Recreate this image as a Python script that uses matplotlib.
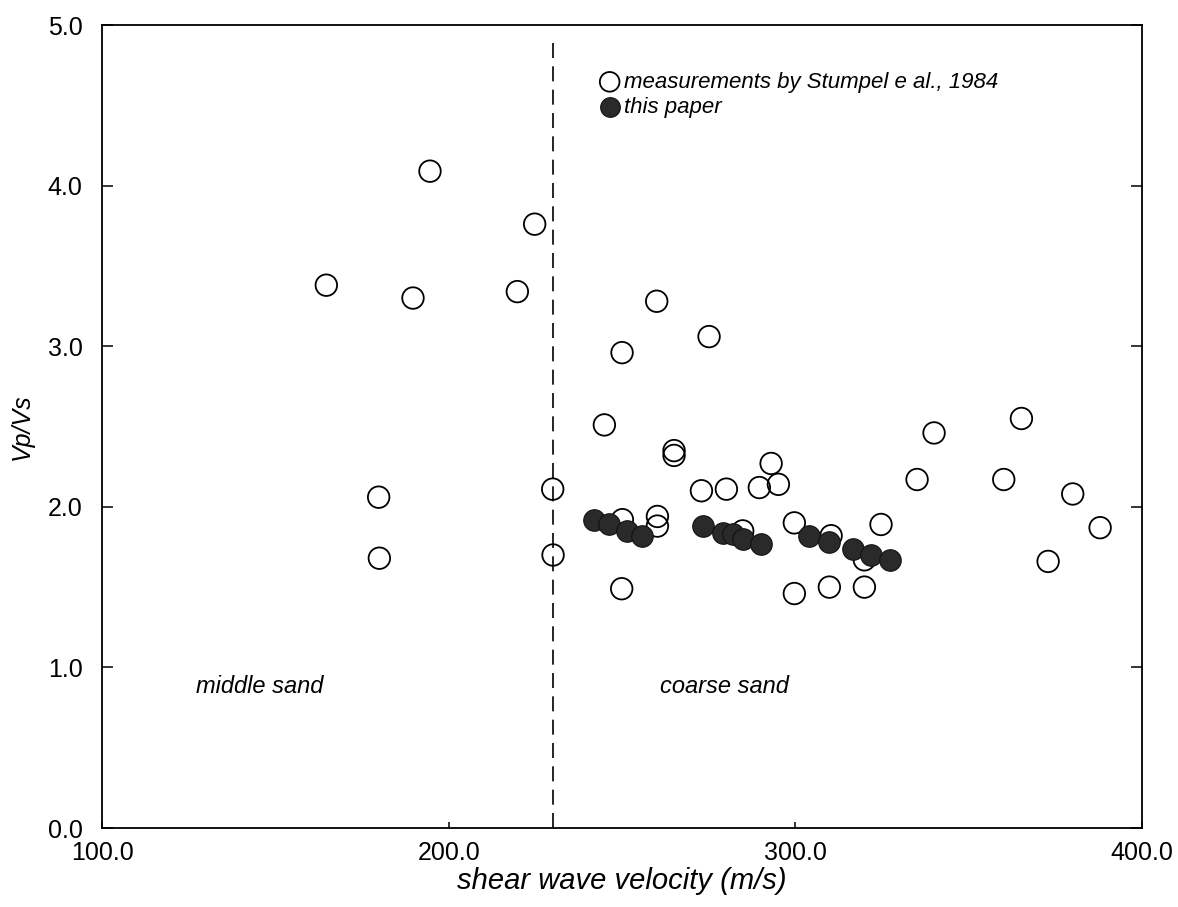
import matplotlib
matplotlib.use('Agg')
import matplotlib.pyplot as plt

plt.rcParams['font.family'] = ['Liberation Sans', 'DejaVu Sans']

# Stumpel et al. (1984) measurements
stumpel_vs = [164.7, 179.8, 180.0, 189.7, 194.6, 219.8, 224.8, 230.0, 230.1,
              244.9, 249.9, 250.0, 250.1, 260.0, 260.2, 260.2, 265.0, 265.0,
              272.9, 275.1, 280.1, 284.8, 289.6, 293.0, 295.1, 299.7, 299.7,
              309.8, 310.3, 319.9, 319.9, 324.7, 335.1, 340.0, 360.1, 365.2,
              372.9, 380.0, 387.9]
stumpel_ratio = [3.38, 2.06, 1.68, 3.30, 4.09, 3.34, 3.76, 2.11, 1.70,
                 2.51, 1.49, 2.96, 1.92, 3.28, 1.94, 1.88, 2.35, 2.32,
                 2.10, 3.06, 2.11, 1.85, 2.12, 2.27, 2.14, 1.90, 1.46,
                 1.50, 1.82, 1.67, 1.50, 1.89, 2.17, 2.46, 2.17, 2.55,
                 1.66, 2.08, 1.87]

# this paper
paper_vs = [241.9, 246.3, 251.4, 255.9, 273.4, 279.0, 281.9, 284.8, 290.1,
            304.0, 309.8, 316.5, 321.8, 327.4]
paper_ratio = [1.92, 1.89, 1.85, 1.82, 1.88, 1.84, 1.83, 1.80, 1.77,
               1.82, 1.78, 1.74, 1.70, 1.67]

boundary_vs = 230.0
xticks = [100, 200, 300, 400]
yticks = [0, 1, 2, 3, 4, 5]

fig = plt.figure(figsize=(11.78, 9.07), dpi=100)
ax = fig.add_axes([0.0866, 0.0871, 0.8829, 0.8853])

ax.scatter(stumpel_vs, stumpel_ratio, s=240, facecolors='none',
           edgecolors='black', linewidths=1.3, zorder=3,
           label='measurements by Stumpel e al., 1984')
ax.scatter(paper_vs, paper_ratio, s=240, color='#2a2a2a',
           edgecolors='#111111', linewidths=0.8, zorder=4,
           label='this paper')

ax.plot([boundary_vs, boundary_vs], [0, 4.92], color='black', lw=1.2,
        dashes=(9, 5), zorder=2)

ax.text(127, 0.88, 'middle sand', fontsize=17, style='italic', va='center')
ax.text(261, 0.88, 'coarse sand', fontsize=17, style='italic', va='center')

ax.set_xlim(100, 400)
ax.set_ylim(0, 5)
ax.set_xticks(xticks)
ax.set_xticklabels(['%.1f' % v for v in xticks])
ax.set_yticks(yticks)
ax.set_yticklabels(['%.1f' % v for v in yticks])
ax.tick_params(axis='both', direction='in', labelsize=18, length=8,
               width=1.1, right=True)
ax.tick_params(axis='y', pad=14)
ax.tick_params(axis='x', pad=9, length=4)
for sp in ax.spines.values():
    sp.set_linewidth(1.3)

ax.set_xlabel('shear wave velocity (m/s)', fontsize=21, style='italic',
              labelpad=2)
ax.set_ylabel('Vp/Vs', fontsize=18, style='italic', labelpad=10)

leg = ax.legend(loc='upper left', bbox_to_anchor=(0.471, 0.953),
                frameon=False, handlelength=0.8,
                handletextpad=0.25, labelspacing=0.2, borderaxespad=0,
                prop={'style': 'italic', 'size': 16})
for h in leg.legend_handles:
    h.set_sizes([200])

fig.savefig('out.png', dpi=100)
